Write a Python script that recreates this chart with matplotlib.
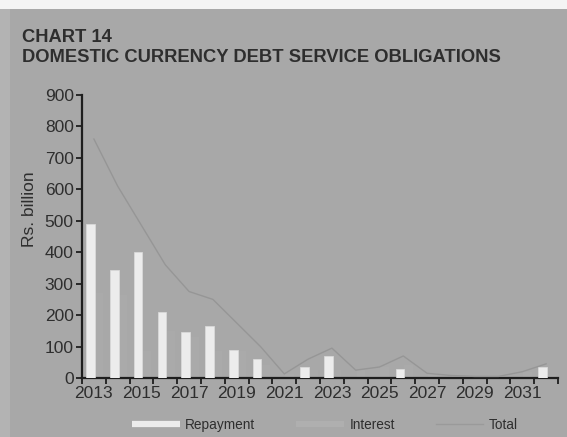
import matplotlib
matplotlib.use("Agg")
import matplotlib.pyplot as plt
import numpy as np
from matplotlib.lines import Line2D
from matplotlib.patches import Rectangle

# Domestic currency debt service obligations, Rs. billion
years = list(range(2013, 2033))
repayment = [490, 345, 400, 210, 145, 165, 90, 60, 0, 35,
             70, 0, 0, 28, 0, 0, 0, 0, 0, 35]
interest = [270, 265, 85, 150, 130, 85, 85, 40, 13, 25,
            25, 25, 35, 42, 15, 8, 5, 5, 20, 10]
total = [r + i for r, i in zip(repayment, interest)]

yticks = list(range(0, 901, 100))
xlabels = [str(y) for y in years[::2]]

bg = "#a8a8a8"
txt = "#2e2e2e"

plt.rcParams["font.family"] = ["Liberation Sans", "DejaVu Sans"]

fig = plt.figure(figsize=(5.67, 4.37), dpi=100, facecolor=bg)
W, H = 567, 437

# paper edges around the panel
fig.patches.append(Rectangle((0, 1 - 9 / H), 1, 9 / H, transform=fig.transFigure,
                             facecolor="#f4f4f4", edgecolor="none", zorder=0))
fig.patches.append(Rectangle((0, 0), 10 / W, 1 - 9 / H, transform=fig.transFigure,
                             facecolor="#b3b3b3", edgecolor="none", zorder=0))

ax = fig.add_axes([82 / W, (H - 378) / H, (558 - 82) / W, (378 - 95) / H])
ax.set_facecolor("none")

x = np.arange(len(years))
bw = 0.36
ax.bar(x - 0.14, repayment, width=bw, color="#ececec", edgecolor="#dcdcdc",
       linewidth=0.5, zorder=3)
ax.bar(x + 0.22, interest, width=bw, color="#aaaaaa", edgecolor="none", zorder=2)
ax.plot(x, total, color="#969696", linewidth=1.0, zorder=4)

ax.set_xlim(-0.5, len(years) - 0.5)
ax.set_ylim(0, 900)

for s in ("top", "right"):
    ax.spines[s].set_visible(False)
for s in ("left", "bottom"):
    ax.spines[s].set_color("#1e1e1e")
    ax.spines[s].set_linewidth(1.6)

ax.set_yticks(yticks)
ax.tick_params(axis="y", direction="out", length=4, width=1.3, colors="#1e1e1e",
               labelsize=12.5, labelcolor=txt, pad=2)
ax.set_xticks(x[::2])
ax.set_xticklabels(xlabels)
ax.set_xticks(np.arange(-0.5, len(years), 1.0), minor=True)
ax.tick_params(axis="x", which="major", length=0, labelsize=12.5, labelcolor=txt, pad=6)
ax.tick_params(axis="x", which="minor", direction="out", length=4, width=1.3,
               colors="#1e1e1e")

fig.text(30 / W, 1 - 209 / H, "Rs. billion", rotation=90, ha="center", va="center",
         fontsize=12.5, color=txt)

fig.text(22 / W, 1 - 42 / H, "CHART 14", fontsize=13.2, fontweight="bold",
         color=txt, ha="left", va="baseline")
fig.text(22 / W, 1 - 62 / H, "DOMESTIC CURRENCY DEBT SERVICE OBLIGATIONS",
         fontsize=13.2, fontweight="bold", color=txt, ha="left", va="baseline")

handles = [
    Line2D([], [], color="#ececec", linewidth=4.5, solid_capstyle="butt"),
    Line2D([], [], color="#afafaf", linewidth=4.5, solid_capstyle="butt"),
    Line2D([], [], color="#9a9a9a", linewidth=1.0),
]
leg = fig.legend(handles, ["Repayment", "Interest", "Total"], loc="center",
                 bbox_to_anchor=(325 / W, 1 - 425 / H), ncol=3, frameon=False,
                 fontsize=9.8, handlelength=3.5, handletextpad=0.4,
                 columnspacing=3.0, labelcolor=txt)

fig.savefig("out.png", dpi=100, facecolor=bg)
